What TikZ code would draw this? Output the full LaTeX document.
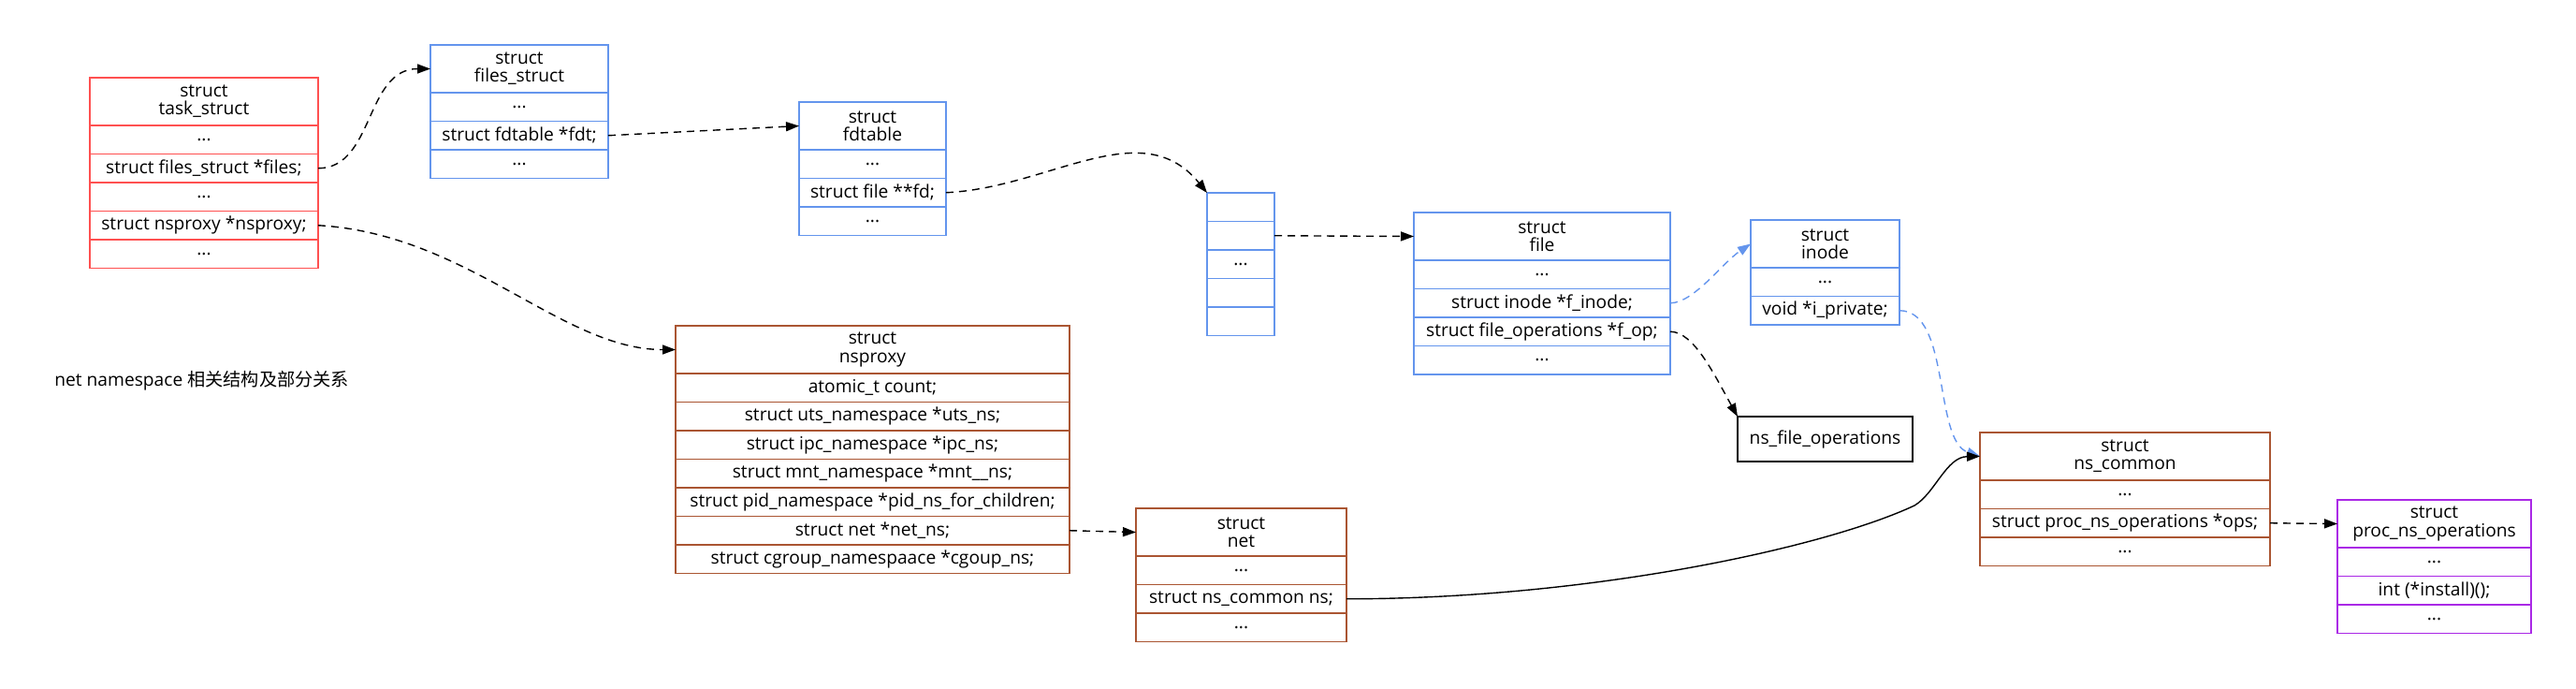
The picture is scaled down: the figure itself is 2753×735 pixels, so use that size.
\documentclass[tikz,border=0pt]{standalone}
\usepackage{fontspec}
\setmainfont{Open Sans}
\newfontfamily\cjk{Noto Sans CJK SC}
\usetikzlibrary{positioning,arrows.meta}

\definecolor{taskred}{RGB}{255,80,80}
\definecolor{fileblue}{RGB}{100,149,237}
\definecolor{nsbrown}{RGB}{170,85,50}
\definecolor{opspurple}{RGB}{170,40,230}

\tikzset{
  field/.style={draw, line width=0.7pt, minimum height=15.25pt, inner sep=0pt, outer sep=0pt,
    font=\fontsize{9.6pt}{9.6pt}\selectfont},
  head/.style={field, minimum height=25.5pt, align=center},
  taskbox/.style={draw=taskred, minimum width=122pt},
  filesbox/.style={draw=fileblue, minimum width=95pt},
  fdtbox/.style={draw=fileblue, minimum width=78.5pt},
  arrbox/.style={draw=fileblue, minimum width=36pt},
  filebox/.style={draw=fileblue, minimum width=137pt},
  inodebox/.style={draw=fileblue, minimum width=79.5pt},
  proxybox/.style={draw=nsbrown, minimum width=210.5pt},
  netbox/.style={draw=nsbrown, minimum width=112.5pt},
  commonbox/.style={draw=nsbrown, minimum width=155pt},
  opsbox/.style={draw=opspurple, minimum width=103.5pt},
  link/.style={dash pattern=on 4pt off 3pt, line width=0.7pt, -{Triangle[length=7pt,width=5pt]}},
}

\begin{document}
\begin{tikzpicture}[x=0.5pt, y=-0.5pt]
\useasboundingbox (0,0) rectangle (2753,735);

% Title
\node[anchor=west, inner sep=0pt, font=\fontsize{9.6pt}{9.6pt}\selectfont] (title) at (58,407)
  {net namespace {\cjk 相关结构及部分关系}};

% task_struct
\node[head, taskbox, anchor=north west] (task) at (96,83) {struct\\task\_struct};
\node[field, taskbox, below=0pt of task]  (task1) {...};
\node[field, taskbox, below=0pt of task1] (task2) {struct files\_struct *files;};
\node[field, taskbox, below=0pt of task2] (task3) {...};
\node[field, taskbox, below=0pt of task3] (task4) {struct nsproxy *nsproxy;};
\node[field, taskbox, below=0pt of task4] (task5) {...};

% files_struct
\node[head, filesbox, anchor=north west] (files) at (460,48) {struct\\files\_struct};
\node[field, filesbox, below=0pt of files]  (files1) {...};
\node[field, filesbox, below=0pt of files1] (files2) {struct fdtable *fdt;};
\node[field, filesbox, below=0pt of files2] (files3) {...};

% fdtable
\node[head, fdtbox, anchor=north west] (fdtable) at (854,109) {struct\\fdtable};
\node[field, fdtbox, below=0pt of fdtable]  (fdtable1) {...};
\node[field, fdtbox, below=0pt of fdtable1] (fdtable2) {struct file **fd;};
\node[field, fdtbox, below=0pt of fdtable2] (fdtable3) {...};

% fd array
\node[field, arrbox, anchor=north west] (arr1) at (1290,206) {};
\node[field, arrbox, below=0pt of arr1] (arr2) {};
\node[field, arrbox, below=0pt of arr2] (arr3) {...};
\node[field, arrbox, below=0pt of arr3] (arr4) {};
\node[field, arrbox, below=0pt of arr4] (arr5) {};

% file
\node[head, filebox, anchor=north west] (file) at (1511,227) {struct\\file};
\node[field, filebox, below=0pt of file]  (file1) {...};
\node[field, filebox, below=0pt of file1] (file2) {struct inode *f\_inode;};
\node[field, filebox, below=0pt of file2] (file3) {struct file\_operations *f\_op;};
\node[field, filebox, below=0pt of file3] (file4) {...};

% inode
\node[head, inodebox, anchor=north west] (inode) at (1871,235) {struct\\inode};
\node[field, inodebox, below=0pt of inode]  (inode1) {...};
\node[field, inodebox, below=0pt of inode1] (inode2) {void *i\_private;};

% ns_file_operations
\node[field, minimum width=93.5pt, minimum height=24pt, anchor=north west] (nsfops) at (1857,445)
  {ns\_file\_operations};

% nsproxy
\node[head, proxybox, anchor=north west] (nsproxy) at (722,348) {struct\\nsproxy};
\node[field, proxybox, below=0pt of nsproxy]  (nsproxy1) {atomic\_t count;};
\node[field, proxybox, below=0pt of nsproxy1] (nsproxy2) {struct uts\_namespace *uts\_ns;};
\node[field, proxybox, below=0pt of nsproxy2] (nsproxy3) {struct ipc\_namespace *ipc\_ns;};
\node[field, proxybox, below=0pt of nsproxy3] (nsproxy4) {struct mnt\_namespace *mnt\_\_ns;};
\node[field, proxybox, below=0pt of nsproxy4] (nsproxy5) {struct pid\_namespace *pid\_ns\_for\_children;};
\node[field, proxybox, below=0pt of nsproxy5] (nsproxy6) {struct net *net\_ns;};
\node[field, proxybox, below=0pt of nsproxy6] (nsproxy7) {struct cgroup\_namespaace *cgoup\_ns;};

% net
\node[head, netbox, anchor=north west] (net) at (1214,543) {struct\\net};
\node[field, netbox, below=0pt of net]  (net1) {...};
\node[field, netbox, below=0pt of net1] (net2) {struct ns\_common ns;};
\node[field, netbox, below=0pt of net2] (net3) {...};

% ns_common
\node[head, commonbox, anchor=north west] (nscommon) at (2116,462) {struct\\ns\_common};
\node[field, commonbox, below=0pt of nscommon]  (nscommon1) {...};
\node[field, commonbox, below=0pt of nscommon1] (nscommon2) {struct proc\_ns\_operations *ops;};
\node[field, commonbox, below=0pt of nscommon2] (nscommon3) {...};

% proc_ns_operations
\node[head, opsbox, anchor=north west] (procops) at (2498,534) {struct\\proc\_ns\_operations};
\node[field, opsbox, below=0pt of procops]  (procops1) {...};
\node[field, opsbox, below=0pt of procops1] (procops2) {int (*install)();};
\node[field, opsbox, below=0pt of procops2] (procops3) {...};

% Pointers
\draw[link] (task2.east) .. controls +(60,0) and +(-70,0) .. (files.west);
\draw[link] (task4.east) .. controls +(160,9) and +(-122,0) .. (nsproxy.west);
\draw[link] (files2.east) -- (fdtable.west);
\draw[link] (fdtable2.east) .. controls +(110,-5) and +(-70,-86) .. (arr1.north west);
\draw[link] (arr2.east) -- (file.west);
\draw[link, fileblue] (file2.east) .. controls +(25,0) and +(-30,20) .. (inode.west);
\draw[link] (file3.east) .. controls +(25,0) and +(-25,-45) .. (nsfops.north west);
\draw[link, fileblue] (inode2.east) .. controls +(55,0) and +(-50,-17) .. (nscommon.west);
\draw[link] (nsproxy6.east) -- (net.west);
\draw[link] (nscommon2.east) -- (procops.west);

% Embedded ns_common
\coordinate (bend) at (2046,540);
\draw[line width=0.7pt, -{Triangle[length=7pt,width=5pt]}] (net2.east)
  .. controls +(260,0) and (1950,585) .. (bend)
  .. controls (2068,527) and (2080,488) .. (nscommon.west);

\end{tikzpicture}
\end{document}
